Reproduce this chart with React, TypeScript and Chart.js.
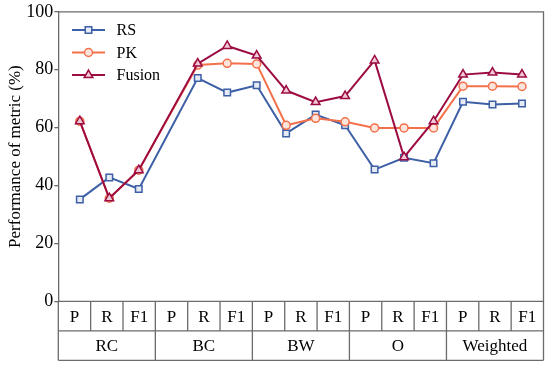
import React, { useEffect, useRef } from 'react';
import { Chart, registerables } from 'chart.js';
import { drawPoint } from 'chart.js/helpers';

Chart.register(...registerables);

// ---- data ----
const metrics = ['P', 'R', 'F1'];
const groups = ['RC', 'BC', 'BW', 'O', 'Weighted'];
const cellLabels = groups.flatMap(() => metrics);
const seriesNames = ['RS', 'PK', 'Fusion'];
const rsValues = [35.2, 42.8, 38.8, 77.1, 72.1, 74.6, 58.0, 64.5, 60.8, 45.5, 49.6, 47.7, 68.9, 68.0, 68.3];
const pkValues = [62.2, 35.6, 45.3, 81.6, 82.2, 82.0, 60.8, 63.2, 62.0, 59.9, 59.9, 59.9, 74.3, 74.3, 74.2];
const fusionValues = [62.2, 35.6, 45.3, 82.1, 88.2, 84.9, 72.8, 68.8, 70.9, 83.2, 49.8, 62.2, 78.3, 79.0, 78.3];
const yTicks = [0, 20, 40, 60, 80, 100];
const yTitle = 'Performance of metric (%)';
// the original plot leaves one empty slot after the first group
const gapAfter = 3;
const xSlots = cellLabels.map((_, i) => (i < gapAfter ? i : i + 1));

const FONT = '"Liberation Serif", "Times New Roman", serif';
const GRID = '#6b6b6b';

const tablePlugin = {
  id: 'tablePlugin',
  afterDraw(chart: any) {
    const { ctx, chartArea } = chart;
    const { left, right, top, bottom } = chartArea;
    const n = cellLabels.length;
    const w = (right - left) / n;
    const r1 = bottom + 29.5;
    const r2 = bottom + 59;
    ctx.save();
    ctx.strokeStyle = GRID;
    ctx.lineWidth = 1.3;
    ctx.beginPath();
    ctx.moveTo(left, top);
    ctx.lineTo(right, top);
    ctx.lineTo(right, r2);
    ctx.moveTo(left, bottom);
    ctx.lineTo(right, bottom);
    ctx.moveTo(left, r1);
    ctx.lineTo(right, r1);
    ctx.moveTo(left, r2);
    ctx.lineTo(right, r2);
    ctx.moveTo(left, bottom);
    ctx.lineTo(left, r2);
    for (let i = 1; i < n; i++) {
      const x = left + i * w;
      ctx.moveTo(x, bottom);
      ctx.lineTo(x, i % metrics.length === 0 ? r2 : r1);
    }
    ctx.stroke();
    ctx.fillStyle = '#000';
    ctx.font = `17px ${FONT}`;
    ctx.textAlign = 'center';
    ctx.textBaseline = 'middle';
    cellLabels.forEach((lab, i) => {
      ctx.fillText(lab, left + (i + 0.5) * w, (bottom + r1) / 2 + 1);
    });
    groups.forEach((g, gi) => {
      const cx = left + (gi * metrics.length + metrics.length / 2) * w;
      ctx.fillText(g, cx, (r1 + r2) / 2 + 1);
    });
    ctx.restore();
  },
};

const legendPlugin = {
  id: 'customLegend',
  afterDraw(chart: any) {
    const { ctx } = chart;
    ctx.save();
    chart.data.datasets.forEach((ds: any, i: number) => {
      const y = 30 + i * 22.5;
      ctx.strokeStyle = ds.borderColor;
      ctx.lineWidth = ds.borderWidth;
      ctx.beginPath();
      ctx.moveTo(72, y);
      ctx.lineTo(105, y);
      ctx.stroke();
      ctx.fillStyle = ds.pointBackgroundColor;
      ctx.strokeStyle = ds.pointBorderColor;
      ctx.lineWidth = ds.pointBorderWidth;
      drawPoint(ctx, { pointStyle: ds.pointStyle, radius: ds.pointRadius, rotation: 0, borderWidth: ds.pointBorderWidth }, 88.5, y);
      ctx.fillStyle = '#000';
      ctx.font = `16px ${FONT}`;
      ctx.textAlign = 'left';
      ctx.textBaseline = 'middle';
      ctx.fillText(ds.label, 116.5, y + 1);
    });
    ctx.restore();
  },
};

function series(values: number[]) {
  return values.map((v, i) => ({ x: xSlots[i], y: v }));
}

export default function App() {
  const ref = useRef<HTMLCanvasElement>(null);
  useEffect(() => {
    document.body.style.margin = '0';
    const styles = [
      { color: '#3D5FA6', bg: '#e6ebf6', style: 'rect', r: 4.6, order: 2, vals: rsValues },
      { color: '#F4704A', bg: '#fde4dc', style: 'circle', r: 4, order: 1, vals: pkValues },
      { color: '#9C0C42', bg: '#f1c9d6', style: 'triangle', r: 5, order: 0, vals: fusionValues },
    ];
    const chart = new Chart(ref.current as HTMLCanvasElement, {
      type: 'line',
      data: {
        datasets: styles.map((s, i) => ({
          label: seriesNames[i],
          data: series(s.vals),
          borderColor: s.color,
          borderWidth: 2,
          pointStyle: s.style,
          pointRadius: s.r,
          pointBorderWidth: 1.5,
          pointBorderColor: s.color,
          pointBackgroundColor: s.bg,
          order: s.order,
          tension: 0,
          fill: false,
        })) as any,
      },
      options: {
        animation: false,
        responsive: false,
        layout: { padding: { left: 0, top: 10, right: 4.3, bottom: 64.7 } },
        plugins: { legend: { display: false }, tooltip: { enabled: false } },
        scales: {
          x: {
            type: 'linear',
            display: false,
            min: -0.73,
            max: 15.73,
          },
          y: {
            min: 0,
            max: 100,
            afterFit: (scale: any) => {
              scale.width = 58.3;
            },
            afterBuildTicks: (scale: any) => {
              scale.ticks = yTicks.map((v) => ({ value: v }));
            },
            ticks: {
              color: '#000',
              font: { family: FONT, size: 18 },
              padding: 1,
            },
            grid: { drawOnChartArea: false, drawTicks: true, tickLength: 4, color: GRID, lineWidth: 1.3 },
            border: { display: true, color: GRID, width: 1.3 },
            title: {
              display: true,
              text: yTitle,
              color: '#000',
              font: { family: FONT, size: 17 },
              padding: { top: 5, bottom: 0 },
            },
          },
        },
      },
      plugins: [tablePlugin, legendPlugin],
    });
    return () => chart.destroy();
  }, []);
  return (
    <div style={{ width: 550, height: 366 }}>
      <canvas ref={ref} width={550} height={366} />
    </div>
  );
}
